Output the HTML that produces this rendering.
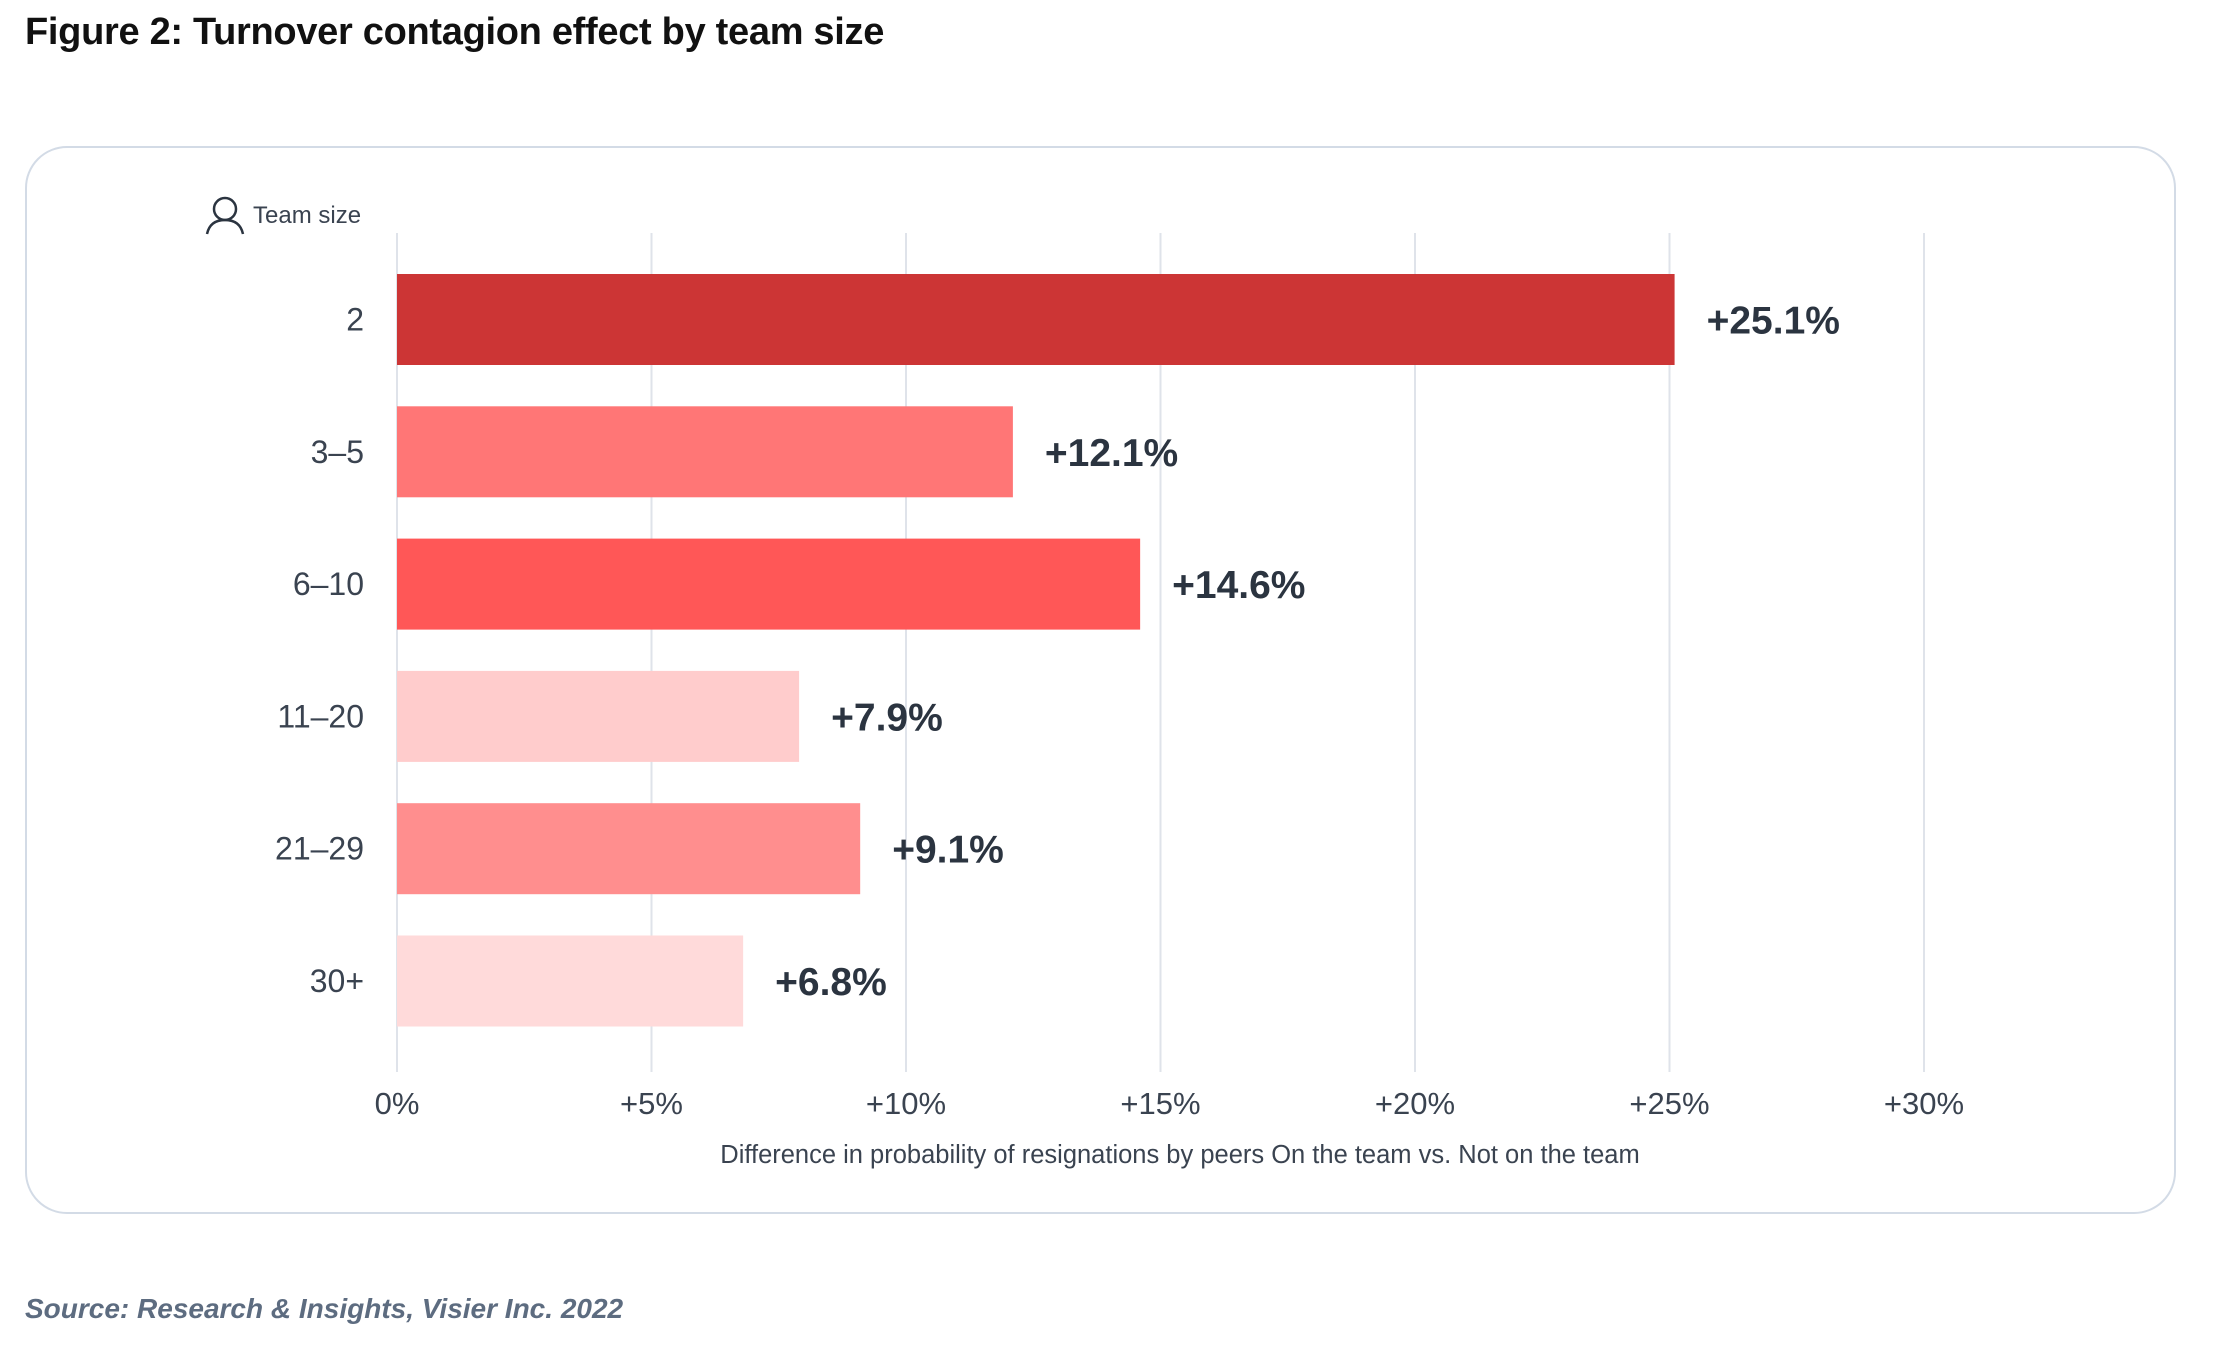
<!DOCTYPE html>
<html><head><meta charset="utf-8"><style>
html,body{margin:0;padding:0;background:#fff;width:2214px;height:1348px;overflow:hidden;font-family:"Liberation Sans",sans-serif}
#title{position:absolute;left:25px;top:11px;font-size:38px;font-weight:bold;color:#111;margin:0;letter-spacing:-0.3px}
#card{position:absolute;left:25px;top:146px;width:2151px;height:1068px;border:2px solid #d3dbe6;border-radius:42px;box-sizing:border-box}
#source{position:absolute;left:25px;top:1293px;font-size:28px;font-style:italic;font-weight:bold;color:#5d6c80}
svg{position:absolute;left:0;top:0}
</style></head><body>
<h1 id="title">Figure 2: Turnover contagion effect by team size</h1>
<div id="card"></div>
<svg id="chart" width="2214" height="1348"></svg>
<div id="source">Source: Research &amp; Insights, Visier Inc. 2022</div>
<script>
const categories=["2","3–5","6–10","11–20","21–29","30+"];
const values=[25.1,12.1,14.6,7.9,9.1,6.8];
const valueLabels=["+25.1%","+12.1%","+14.6%","+7.9%","+9.1%","+6.8%"];
const barColors=["#cc3535","#ff7676","#ff5757","#ffcccc","#ff8e8e","#ffdada"];
const ticks=[0,5,10,15,20,25,30];
const tickLabels=["0%","+5%","+10%","+15%","+20%","+25%","+30%"];
const NS="http://www.w3.org/2000/svg";
const svg=document.getElementById('chart');
const x0=397,pxPer=50.9,y0=274,pitch=132.3,bh=91,gridTop=233,gridBot=1072;
const xs=v=>x0+v*pxPer;
const ys=i=>y0+i*pitch;
function mk(t,a){const e=document.createElementNS(NS,t);for(const k in a)e.setAttribute(k,a[k]);svg.appendChild(e);return e;}
ticks.forEach((t,i)=>{
  const g=mk('line',{x1:xs(t),x2:xs(t),y1:gridTop,y2:gridBot,stroke:'#dfe3ea','stroke-width':2});
  
  
  const l=mk('text',{x:xs(t),y:1114,'text-anchor':'middle','font-size':31,fill:'#3a4350'});
  l.textContent=tickLabels[i];
  
  
});
categories.forEach((c,i)=>{
  const r=mk('rect',{x:xs(0),y:ys(i),width:xs(values[i])-xs(0),height:bh,fill:barColors[i]});
  
  
  const cl=mk('text',{x:364,y:ys(i)+bh/2+11,'text-anchor':'end','font-size':32,fill:'#3a4350'});
  cl.textContent=c;
  
  
  const vl=mk('text',{x:xs(values[i])+32,y:ys(i)+bh/2+14,'font-size':39,'font-weight':'bold',fill:'#2b3440'});
  vl.textContent=valueLabels[i];
  
  
});
const at=mk('text',{x:1180,y:1163,'text-anchor':'middle','font-size':25.5,fill:'#3a4350'});
at.textContent="Difference in probability of resignations by peers On the team vs. Not on the team";


const ic=mk('g',{fill:'none',stroke:'#2b3440','stroke-width':2.5});


ic.innerHTML='<circle cx="225" cy="209" r="11"/><path d="M207 234 Q210 220 225 220 Q240 220 243 234"/>';
const yt=mk('text',{x:253,y:223,'font-size':24,fill:'#3a4350'});
yt.textContent="Team size";


</script>
</body></html>
